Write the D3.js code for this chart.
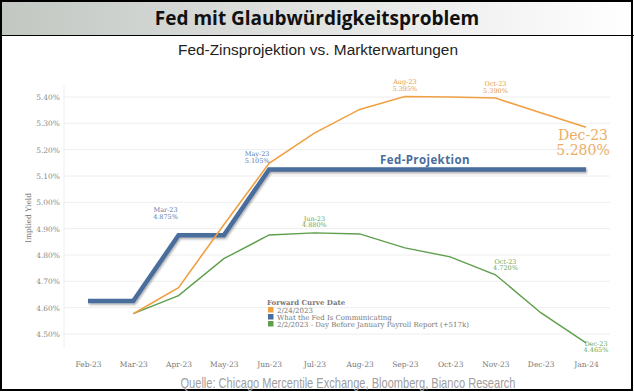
<!DOCTYPE html>
<html lang="de">
<head>
  <meta charset="UTF-8">
  <title>Fed mit Glaubwürdigkeitsproblem</title>
  <script src="https://d3js.org/d3.v7.min.js"></script>
  <style>
    body { margin: 0; background: #fff; }
    svg { display: block; }
    .tick-label, .ann, .legend text { font-family: "DejaVu Serif", "Liberation Serif", serif; }
    .grid { stroke: #eeeeee; stroke-width: 1; }
  </style>
</head>
<body>
  <svg width="634" height="392"></svg>
  <script>
    // Monate auf der X-Achse
    const months = ["Feb-23", "Mar-23", "Apr-23", "May-23", "Jun-23", "Jul-23",
                    "Aug-23", "Sep-23", "Oct-23", "Nov-23", "Dec-23", "Jan-24"];

    // Y-Achse Ticks (in %)
    const yTicks = [4.5, 4.6, 4.7, 4.8, 4.9, 5.0, 5.1, 5.2, 5.3, 5.4];

    // Was die Fed kommuniziert
    const fedValues = [4.625, 4.625, 4.875, 4.875, 5.125, 5.125,
                       5.125, 5.125, 5.125, 5.125, 5.125, 5.125];

    // Forward Curve 2/24/2023 (ab Mar-23)
    const curve0224 = [null, 4.577, 4.676, 4.915, 5.148, 5.263,
                       5.353, 5.402, 5.400, 5.396, 5.340, 5.285];

    // Forward Curve 2/2/2023 (ab Mar-23)
    const curve0202 = [null, 4.577, 4.646, 4.786, 4.876, 4.884,
                       4.880, 4.827, 4.793, 4.725, 4.581, 4.466];

    const legendLabels = ["2/24/2023", "What the Fed Is Communicating",
                          "2/2/2023 - Day Before January Payroll Report (+517k)"];

    const colors = { orange: "#f0a043", blue: "#4a6d9c", green: "#5e9e4c" };

    const svg = d3.select("svg");

    // Titelbalken mit Verlauf
    const defs = svg.append("defs");
    const grad = defs.append("linearGradient").attr("id", "titleGrad");
    grad.append("stop").attr("offset", "0%").attr("stop-color", "#c2c7c2");
    grad.append("stop").attr("offset", "55%").attr("stop-color", "#e4e6e4");
    grad.append("stop").attr("offset", "100%").attr("stop-color", "#ffffff");

    const shadow = defs.append("filter").attr("id", "shadow")
      .attr("x", "-5%").attr("y", "-20%").attr("width", "110%").attr("height", "140%");
    shadow.append("feDropShadow").attr("dx", 1).attr("dy", 1.5)
      .attr("stdDeviation", 1).attr("flood-color", "#000").attr("flood-opacity", 0.35);

    svg.append("rect").attr("x", 1).attr("y", 1).attr("width", 631).attr("height", 34)
      .attr("fill", "url(#titleGrad)");
    svg.append("line").attr("x1", 0).attr("x2", 634).attr("y1", 35.5).attr("y2", 35.5)
      .attr("stroke", "#000").attr("stroke-width", 1);
    svg.append("rect").attr("x", 1).attr("y", 1).attr("width", 631).attr("height", 389)
      .attr("fill", "none").attr("stroke", "#000").attr("stroke-width", 2);

    svg.append("text").attr("x", 317).attr("y", 25)
      .attr("text-anchor", "middle")
      .style("font-family", "'Open Sans', sans-serif")
      .style("font-weight", "bold").style("font-size", "19px")
      .attr("fill", "#111")
      .text("Fed mit Glaubwürdigkeitsproblem");

    svg.append("text").attr("x", 318).attr("y", 55)
      .attr("text-anchor", "middle")
      .attr("textLength", 280).attr("lengthAdjust", "spacingAndGlyphs")
      .style("font-family", "'Liberation Sans', Arial, sans-serif")
      .style("font-size", "15.5px")
      .attr("fill", "#222")
      .text("Fed-Zinsprojektion vs. Markterwartungen");

    // Skalen
    const x = d3.scalePoint().domain(months).range([88, 586]);
    const y = d3.scaleLinear().domain([4.5, 5.4]).range([334, 97]);

    // Gitterlinien
    svg.append("g").selectAll("line")
      .data(yTicks)
      .enter().append("line")
      .attr("class", "grid")
      .attr("x1", 64).attr("x2", 610)
      .attr("y1", d => y(d)).attr("y2", d => y(d));
    svg.append("line").attr("class", "grid")
      .attr("x1", 64).attr("x2", 64).attr("y1", 85).attr("y2", 348);

    // Y-Achse
    const yAxis = svg.append("g").attr("transform", "translate(62,0)")
      .call(d3.axisLeft(y).tickValues(yTicks).tickSize(0).tickPadding(2)
        .tickFormat(d => d3.format(".2f")(d) + "%"));
    yAxis.select(".domain").remove();
    yAxis.selectAll("text").attr("class", "tick-label")
      .style("font-size", "7.5px").attr("fill", "#888");

    // X-Achse
    const xAxis = svg.append("g").attr("transform", "translate(0,358)")
      .call(d3.axisBottom(x).tickSize(0).tickPadding(4));
    xAxis.select(".domain").remove();
    xAxis.selectAll("text").attr("class", "tick-label")
      .style("font-size", "7.5px").attr("fill", "#777");

    svg.append("text")
      .attr("class", "tick-label")
      .attr("transform", "translate(31,218) rotate(-90)")
      .attr("text-anchor", "middle")
      .style("font-size", "7.5px").attr("fill", "#777")
      .text("Implied Yield");

    // Linien
    const line = d3.line()
      .defined(d => d.v != null)
      .x(d => x(d.m)).y(d => y(d.v));
    const toPts = arr => months.map((m, i) => ({ m: m, v: arr[i] }));

    svg.append("path").datum(toPts(fedValues))
      .attr("d", line).attr("fill", "none")
      .attr("stroke", colors.blue).attr("stroke-width", 4.5)
      .attr("stroke-linejoin", "miter")
      .attr("filter", "url(#shadow)");

    svg.append("path").datum(toPts(curve0202))
      .attr("d", line).attr("fill", "none")
      .attr("stroke", colors.green).attr("stroke-width", 1.4);

    svg.append("path").datum(toPts(curve0224))
      .attr("d", line).attr("fill", "none")
      .attr("stroke", colors.orange).attr("stroke-width", 1.6);

    // Beschriftungen an den Punkten
    const annotations = [
      { m: "Apr-23", v: 4.875, t: ["Mar-23", "4.875%"], c: "#5a78a8", dx: -13, dy: -23 },
      { m: "Jun-23", v: 5.125, t: ["May-23", "5.105%"], c: "#5a78a8", dx: -12, dy: -13 },
      { m: "Sep-23", v: 5.402, t: ["Aug-23", "5.395%"], c: "#e59a45", dx: 0, dy: -12 },
      { m: "Nov-23", v: 5.396, t: ["Oct-23", "5.390%"], c: "#e59a45", dx: 0, dy: -12 },
      { m: "Jul-23", v: 4.884, t: ["Jun-23", "4.880%"], c: "#6aa85a", dx: 0, dy: -12 },
      { m: "Nov-23", v: 4.725, t: ["Oct-23", "4.720%"], c: "#6aa85a", dx: 10, dy: -11 },
      { m: "Jan-24", v: 4.466, t: ["Dec-23", "4.465%"], c: "#6aa85a", dx: 10, dy: 3 }
    ];
    annotations.forEach(a => {
      const g = svg.append("text").attr("class", "ann")
        .attr("text-anchor", "middle")
        .style("font-size", "6.5px").attr("fill", a.c);
      a.t.forEach((s, i) => {
        g.append("tspan").attr("x", x(a.m) + a.dx)
          .attr("y", y(a.v) + a.dy + i * 6.5).text(s);
      });
    });

    // Grosse Beschriftung am Ende
    const bigX = x("Jan-24") - 3;
    const bigY = y(5.285);
    svg.append("text").attr("class", "ann")
      .attr("x", bigX).attr("y", bigY + 13)
      .attr("text-anchor", "middle")
      .style("font-size", "14px").attr("fill", "#ecad66")
      .text("Dec-23");
    svg.append("text").attr("class", "ann")
      .attr("x", bigX).attr("y", bigY + 28)
      .attr("text-anchor", "middle")
      .style("font-size", "14px").attr("fill", "#ecad66")
      .text("5.280%");

    svg.append("text").attr("x", 425).attr("y", y(5.125) - 5)
      .attr("text-anchor", "middle")
      .style("font-family", "'Open Sans', sans-serif")
      .style("font-weight", "bold").style("font-size", "11.5px")
      .style("letter-spacing", "0.4px")
      .attr("fill", colors.blue)
      .text("Fed-Projektion");

    // Legende
    const legend = svg.append("g").attr("class", "legend")
      .attr("transform", "translate(267,299)");
    legend.append("text").attr("x", 0).attr("y", 6)
      .style("font-size", "7px").style("font-weight", "bold").attr("fill", "#777")
      .text("Forward Curve Date");
    const legendColors = [colors.orange, colors.blue, colors.green];
    legendLabels.forEach((lab, i) => {
      legend.append("rect").attr("x", 1).attr("y", 8 + i * 7)
        .attr("width", 5.5).attr("height", 5.5).attr("fill", legendColors[i]);
      legend.append("text").attr("x", 10).attr("y", 13.5 + i * 7)
        .style("font-size", "7px").attr("fill", "#777").text(lab);
    });

    // Quelle
    svg.append("text").attr("x", 348).attr("y", 388)
      .attr("text-anchor", "middle")
      .attr("textLength", 335).attr("lengthAdjust", "spacingAndGlyphs")
      .style("font-family", "'Liberation Sans', Arial, sans-serif")
      .style("font-size", "15px")
      .attr("fill", "#a0a0a0")
      .text("Quelle: Chicago Mercentile Exchange, Bloomberg, Bianco Research");
  </script>
</body>
</html>
